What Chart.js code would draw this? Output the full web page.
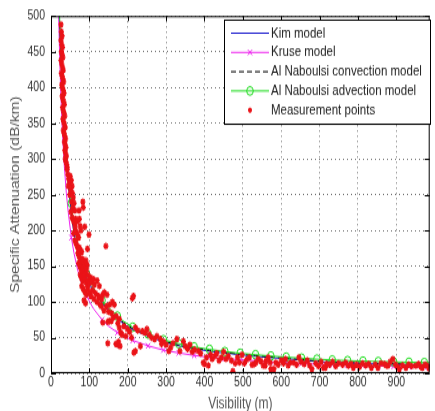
<!DOCTYPE html>
<html>
<head>
<meta charset="utf-8">
<script src="https://cdn.jsdelivr.net/npm/chart.js@4.4.0/dist/chart.umd.min.js"></script>
<style>
  html, body { margin: 0; padding: 0; background: #fff; }
  #pagina { width: 435px; height: 411px; overflow: hidden; }
  /* la figura original viene estirada en vertical */
  #marco { width: 435px; height: 316px; transform: scale(1, 1.3006); transform-origin: 0 0; }
</style>
</head>
<body>
<div id="pagina"><div id="marco"><canvas id="atenuacionChart" width="435" height="316"></canvas></div></div>
<script>
// =============================================
// ATENUACIÓN ESPECÍFICA vs VISIBILIDAD
// =============================================

// Ejes
const xTickValues = [0, 100, 200, 300, 400, 500, 600, 700, 800, 900];
const yTickValues = [0, 50, 100, 150, 200, 250, 300, 350, 400, 450, 500];

// Curvas de los modelos (visibilidad en m, atenuación en dB/km)
const modelVisibility = [20, 22, 25, 30, 35, 40, 45, 53, 60, 70, 80, 93, 110, 133, 150, 173, 190, 213, 253, 293,
    333, 373, 413, 453, 493, 533, 573, 613, 653, 693, 733, 773, 813, 853, 893, 933, 973, 1000];
const kimModel = [525, 490, 450, 395, 335, 295, 265, 222, 195, 170, 152, 132, 115, 98, 88, 76, 69, 61, 52, 44,
    38.5, 34.5, 31, 28.5, 26, 24, 22, 20.5, 18.5, 16.5, 15, 14.2, 13.6, 13, 12.5, 12, 11.5, 11.2];
const kruseModel = [500, 455, 400, 335, 288, 252, 225, 190, 168, 143, 125, 108, 91, 75, 66, 57, 52, 46, 38.5, 32.5,
    28.5, 25, 22.5, 20.5, 19, 17.5, 16, 15, 13.8, 12.8, 12, 11.3, 10.7, 10.1, 9.6, 9.1, 8.7, 8.4];
const naboulsiConvection = [535, 500, 460, 402, 342, 301, 270, 227, 199, 174, 155, 135, 118, 100, 90, 78, 70.5, 62.5, 53, 45,
    39.5, 35.5, 32, 29.3, 26.8, 24.8, 22.8, 21.2, 19.3, 17.4, 16, 15.2, 14.5, 13.9, 13.3, 12.8, 12.3, 12];
const naboulsiAdvection = [545, 505, 465, 405, 345, 305, 275, 238, 205, 178, 158, 138, 120, 102, 92, 80, 72.5, 64.5, 55, 47,
    41.5, 37, 33.5, 30.5, 28, 26, 24.2, 22.6, 21.2, 19.8, 18.6, 17.8, 17.1, 16.5, 16, 15.5, 15, 14.7];

// Puntos de medida
const measVisibility = [
    26, 27, 29, 26, 28, 30, 27, 29, 31, 26, 28, 30, 32, 27, 29, 31, 33, 28, 30, 32, 34, 29, 31, 33, 35,
    30, 32, 34, 36, 31, 33, 35, 37, 32, 34, 36, 38, 35, 37, 39, 36, 38, 40, 37, 39, 41, 42,
    42, 44, 46, 48, 45, 50, 53, 55, 52, 49, 56, 58, 54, 60, 57, 62, 52, 55, 58, 61, 64, 67, 70, 74,
    73, 83, 84, 76, 63, 66, 69, 72, 59, 99, 88, 78, 62, 65, 68, 71,
    74, 77, 80, 95, 70, 73, 76, 79, 82, 85, 88, 91, 94, 72, 75, 78, 81, 84, 87, 90, 93, 96, 76, 79, 82,
    85, 88, 91, 94, 97, 100, 103, 106, 110, 113, 80, 84, 88, 92, 96, 100, 104, 108, 112, 116, 120, 124,
    128, 132, 86, 90, 143, 120, 126,
    126, 135, 139, 146, 153, 160, 165, 131, 145, 138, 150, 158, 135, 148, 152, 157, 162, 170, 178, 174,
    178, 182, 190, 199, 205, 212, 215, 220, 226, 148, 169, 173, 180, 176, 185, 195, 210, 216, 220, 233,
    238, 245, 250, 256, 262, 270, 276, 285, 288, 294, 300, 307, 312, 318, 328, 336, 345, 350, 356, 362,
    368, 374, 384, 390, 397, 400, 405, 410, 416, 420, 427, 432, 438, 444, 450, 456, 462, 470, 474, 480,
    486, 491, 498, 504, 510, 517, 524, 530, 534, 540, 547, 553, 558, 560, 566, 571, 573, 581, 586, 592,
    600, 606, 611, 618, 624, 632, 640, 646, 652, 660, 668, 674, 680, 690, 697, 704, 710, 715, 718, 726,
    734, 742, 750, 760, 768, 775, 782, 788, 796, 804, 812, 820, 828, 835, 845, 852, 860, 869, 874, 878,
    884, 891, 898, 903, 908, 916, 925, 932, 940, 951, 958, 964, 968, 975, 981, 985
];
const measAttenuation = [
    488, 478, 472, 466, 460, 456, 450, 446, 442, 438, 433, 428, 424, 420, 416, 412, 408, 404, 400, 396, 392, 388, 384, 380, 376,
    372, 368, 364, 360, 356, 352, 348, 344, 340, 336, 332, 328, 324, 320, 316, 312, 308, 304, 300, 296, 292, 288,
    285, 278, 272, 266, 262, 276, 270, 262, 256, 250, 252, 246, 240, 238, 232, 228, 226, 218, 214, 210, 216, 212, 214, 216,
    228, 240, 232, 206, 204, 198, 194, 190, 196, 194, 205, 200, 186, 182, 178, 174,
    176, 172, 170, 174, 168, 164, 160, 156, 160, 156, 152, 158, 152, 154, 150, 146, 142, 148, 144, 140, 146, 138, 138, 134, 130,
    136, 132, 128, 124, 130, 126, 134, 128, 132, 124, 122, 118, 114, 110, 118, 112, 108, 116, 104, 112, 100, 108,
    96, 104, 102, 98, 178, 130, 122,
    106, 110, 113, 110, 96, 100, 96, 94, 94, 88, 86, 84, 71, 72, 73, 73, 78, 80, 76, 70,
    64, 57, 66, 62, 58, 105, 108, 64, 60, 42, 41, 40, 38, 44, 54, 52, 50, 29, 31, 38,
    59, 57, 62, 54, 50, 48, 52, 48, 41, 44, 40, 31, 36, 42, 48, 31, 45, 38, 34, 40,
    30, 33, 31, 28, 15, 13, 22, 11, 26, 20, 24, 28, 18, 22, 30, 20, 24, 18, 3, 14,
    22, 15, 26, 14, 19, 22, 12, 13, 15, 20, 17, 11, 10.5, 17, 22, 15, 6, 6, 15, 12,
    18, 14, 20, 11, 15, 15, 12, 22, 16, 13, 18, 11, 6, 14, 10, 16, 8, 8, 13, 12,
    16, 10, 14, 12, 15, 10.5, 13, 8, 12, 9, 14, 11, 13, 8, 12, 8, 14, 13, 11, 10.5,
    16, 20, 12, 9, 6, 11, 8, 12, 10, 10.5, 13, 9, 8, 12, 10.5, 7
];

const FUENTE = 'Liberation Sans, Arial, sans-serif';

// Junta dos listas en puntos {x, y}
function puntos(xs, ys) {
    return xs.map((v, i) => ({ x: v, y: ys[i] }));
}

// Marcadores cada 40 m sobre las curvas con símbolo
function conMarcador(ctx) {
    const v = ctx.raw ? ctx.raw.x : 0;
    return v >= 53 && (v - 13) % 40 === 0;
}

// Caja estilo MATLAB, leyenda y títulos de ejes
const marcoMatlab = {
    id: 'marcoMatlab',
    afterDatasetsDraw(chart) {
        const { ctx, chartArea: a, scales } = chart;
        ctx.save();
        ctx.strokeStyle = '#000';
        ctx.lineWidth = 1;
        ctx.strokeRect(a.left + 0.5, a.top + 0.5, a.right - a.left - 1, a.bottom - a.top - 1);
        ctx.beginPath();
        xTickValues.forEach(v => {
            const px = Math.round(scales.x.getPixelForValue(v)) + 0.5;
            ctx.moveTo(px, a.bottom); ctx.lineTo(px, a.bottom - 4);
            ctx.moveTo(px, a.top); ctx.lineTo(px, a.top + 4);
        });
        yTickValues.forEach(v => {
            const py = Math.round(scales.y.getPixelForValue(v)) + 0.5;
            ctx.moveTo(a.left, py); ctx.lineTo(a.left + 5, py);
            ctx.moveTo(a.right, py); ctx.lineTo(a.right - 5, py);
        });
        ctx.stroke();
        ctx.restore();
    },
    afterDraw(chart) {
        const { ctx, chartArea: a } = chart;
        ctx.save();

        // Leyenda
        const caja = { left: 224.5, top: 15.5, right: 430.5, bottom: 95.5 };
        ctx.fillStyle = '#fff';
        ctx.fillRect(caja.left, caja.top, caja.right - caja.left, caja.bottom - caja.top);
        ctx.strokeStyle = '#000';
        ctx.lineWidth = 1;
        ctx.strokeRect(caja.left, caja.top, caja.right - caja.left, caja.bottom - caja.top);

        ctx.font = '11.5px ' + FUENTE;
        ctx.textBaseline = 'middle';
        ctx.textAlign = 'left';
        chart.data.datasets.forEach((ds, i) => {
            const y = 25.5 + i * 14.8;
            if (ds.showLine) {
                ctx.save();
                ctx.strokeStyle = ds.borderColor;
                ctx.lineWidth = ds.borderWidth;
                ctx.setLineDash(ds.borderDash || []);
                ctx.beginPath();
                ctx.moveTo(231, y);
                ctx.lineTo(269, y);
                ctx.stroke();
                ctx.restore();
            }
            if (ds.legendMarker) {
                ctx.save();
                ctx.strokeStyle = ds.pointBorderColor;
                ctx.fillStyle = ds.pointBackgroundColor;
                ctx.lineWidth = ds.pointBorderWidth;
                Chart.helpers.drawPoint(ctx, {
                    pointStyle: ds.pointStyle,
                    radius: ds.legendMarker,
                    borderWidth: ds.pointBorderWidth,
                    rotation: 0
                }, 250, y);
                ctx.restore();
            }
            ctx.fillStyle = '#222';
            ctx.fillText(ds.label, 271, y);
        });

        // Títulos de los ejes
        ctx.font = '12px ' + FUENTE;
        ctx.fillStyle = '#555';
        ctx.textAlign = 'center';
        ctx.fillText('Visibility (m)', (a.left + a.right) / 2, 310.5);
        ctx.translate(16, (a.top + a.bottom) / 2);
        ctx.rotate(-Math.PI / 2);
        ctx.fillText('Specific Attenuation (dB/km)', 0, 0);
        ctx.restore();
    }
};

const ctxAtenuacion = document.getElementById('atenuacionChart');
new Chart(ctxAtenuacion.getContext('2d'), {
    type: 'scatter',
    data: {
        datasets: [{
            label: 'Kim model',
            data: puntos(modelVisibility, kimModel),
            showLine: true,
            borderColor: '#1414cc',
            borderWidth: 1,
            pointRadius: 0,
            order: 4
        }, {
            label: 'Kruse model',
            data: puntos(modelVisibility, kruseModel),
            showLine: true,
            borderColor: '#ee22ee',
            borderWidth: 1,
            pointStyle: 'crossRot',
            pointRadius: ctx => conMarcador(ctx) ? 3 : 0,
            pointBorderColor: '#ee22ee',
            pointBackgroundColor: '#ee22ee',
            pointBorderWidth: 1,
            legendMarker: 3,
            order: 3
        }, {
            label: 'Al Naboulsi convection model',
            data: puntos(modelVisibility, naboulsiConvection),
            showLine: true,
            borderColor: '#000',
            borderWidth: 1,
            borderDash: [5, 3],
            pointRadius: 0,
            order: 2
        }, {
            label: 'Al Naboulsi advection model',
            data: puntos(modelVisibility, naboulsiAdvection),
            showLine: true,
            borderColor: '#22dd22',
            borderWidth: 1,
            pointStyle: 'circle',
            pointRadius: ctx => conMarcador(ctx) ? 3.3 : 0,
            pointBorderColor: '#22dd22',
            pointBackgroundColor: 'rgba(255,255,255,0)',
            pointBorderWidth: 1,
            legendMarker: 3.3,
            order: 1
        }, {
            label: 'Measurement points',
            data: puntos(measVisibility, measAttenuation),
            showLine: false,
            pointStyle: 'star',
            pointRadius: 2.6,
            pointBorderColor: '#ea1318',
            pointBackgroundColor: '#ea1318',
            pointBorderWidth: 1.3,
            legendMarker: 2,
            order: 0
        }]
    },
    options: {
        responsive: false,
        devicePixelRatio: 1,
        animation: false,
        layout: { padding: { top: 11, right: 1, bottom: 0, left: 0 } },
        plugins: {
            legend: { display: false },
            tooltip: { enabled: false }
        },
        scales: {
            x: {
                type: 'linear',
                min: 0,
                max: 987,
                afterBuildTicks: scale => { scale.ticks = xTickValues.map(v => ({ value: v })); },
                afterFit: scale => { scale.height = 29; },
                grid: { color: 'rgba(0,0,0,0.55)', lineWidth: 1, drawTicks: false },
                border: { display: false, dash: [1, 3] },
                ticks: {
                    font: { family: FUENTE, size: 10.5 },
                    color: '#333',
                    padding: 1,
                    maxRotation: 0,
                    autoSkip: false
                }
            },
            y: {
                type: 'linear',
                min: 0,
                max: 500,
                afterBuildTicks: scale => { scale.ticks = yTickValues.map(v => ({ value: v })); },
                afterFit: scale => { scale.width = 51; },
                grid: { color: 'rgba(0,0,0,0.55)', lineWidth: 1, drawTicks: false },
                border: { display: false, dash: [1, 3] },
                ticks: {
                    font: { family: FUENTE, size: 10.5 },
                    color: '#333',
                    padding: 6,
                    autoSkip: false
                }
            }
        }
    },
    plugins: [marcoMatlab]
});
</script>
</body>
</html>
